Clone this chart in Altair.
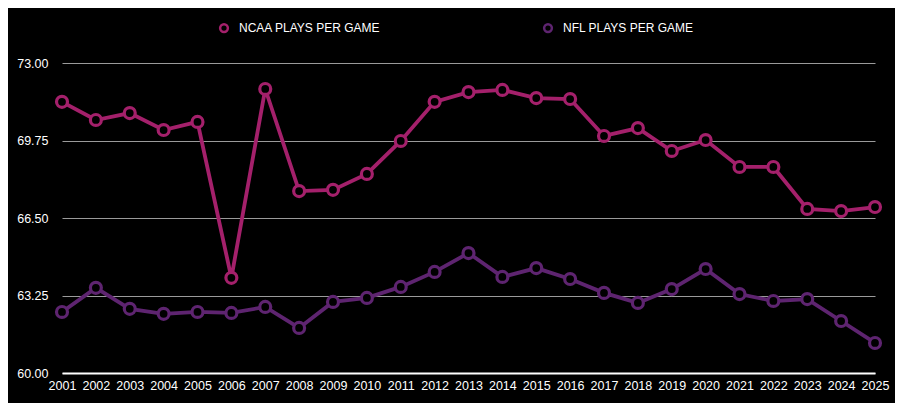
import altair as alt
import pandas as pd

years = list(range(2001, 2026))
ncaa = [71.37, 70.61, 70.90, 70.19, 70.53, 63.99, 71.91, 67.63, 67.68, 68.35,
        69.73, 71.37, 71.78, 71.87, 71.53, 71.49, 69.94, 70.27, 69.31, 69.77,
        68.64, 68.64, 66.88, 66.79, 66.96]
nfl = [62.56, 63.57, 62.69, 62.48, 62.56, 62.52, 62.77, 61.89, 62.98, 63.15,
       63.61, 64.24, 65.03, 64.03, 64.40, 63.94, 63.36, 62.94, 63.52, 64.36,
       63.31, 63.02, 63.10, 62.18, 61.26]
series_names = ["NCAA PLAYS PER GAME", "NFL PLAYS PER GAME"]
series_colors = ["#a4206b", "#5e2470"]
y_ticks = [60.0, 63.25, 66.5, 69.75, 73.0]

rows = []
for y, v in zip(years, ncaa):
    rows.append({"year": y, "value": v, "series": series_names[0]})
for y, v in zip(years, nfl):
    rows.append({"year": y, "value": v, "series": series_names[1]})
df = pd.DataFrame(rows)

font = "Liberation Sans"

x = alt.X("year:Q", scale=alt.Scale(domain=[2001, 2025], nice=False, zero=False),
          axis=alt.Axis(values=years, format="d", title=None, grid=False, ticks=False,
                        domain=True, domainColor="#ffffff", domainWidth=2,
                        labelColor="#ffffff", labelFontSize=12.5, labelFont=font,
                        labelPadding=6, labelOverlap=False, labelFlush=False))
y = alt.Y("value:Q", scale=alt.Scale(domain=[60, 73], nice=False, zero=False),
          axis=alt.Axis(values=y_ticks, format=".2f", title=None, grid=True,
                        gridColor="#9a9a9a", gridWidth=1, ticks=False, domain=False,
                        labelColor="#ffffff", labelFontSize=12.5, labelFont=font,
                        labelPadding=14))
color = alt.Color("series:N",
                  scale=alt.Scale(domain=series_names, range=series_colors),
                  legend=alt.Legend(title=None, orient="none", direction="horizontal",
                                    legendX=156, legendY=-41,
                                    labelColor="#ffffff", labelFontSize=12, labelFont=font,
                                    symbolType="circle", symbolFillColor="#000000",
                                    symbolStrokeWidth=2.5, symbolSize=60,
                                    columnPadding=158, labelOffset=9))

base = alt.Chart(df)
lines = base.mark_line(strokeWidth=3.8).encode(x=x, y=y, color=color)
points = base.mark_point(filled=False, shape="circle", size=120, strokeWidth=3.2,
                         fill="#000000", fillOpacity=1, opacity=1).encode(
    x=x, y=y, color=alt.Color("series:N", scale=alt.Scale(domain=series_names, range=series_colors), legend=None))

chart = (lines + points).properties(
    width=813, height=310,
    autosize=alt.AutoSizeParams(type="none"),
    padding={"left": 54, "top": 55, "right": 20, "bottom": 30},
    background="#000000",
).configure_view(stroke=None)

chart.save("out.html", embed_options={"renderer": "svg", "actions": False})
